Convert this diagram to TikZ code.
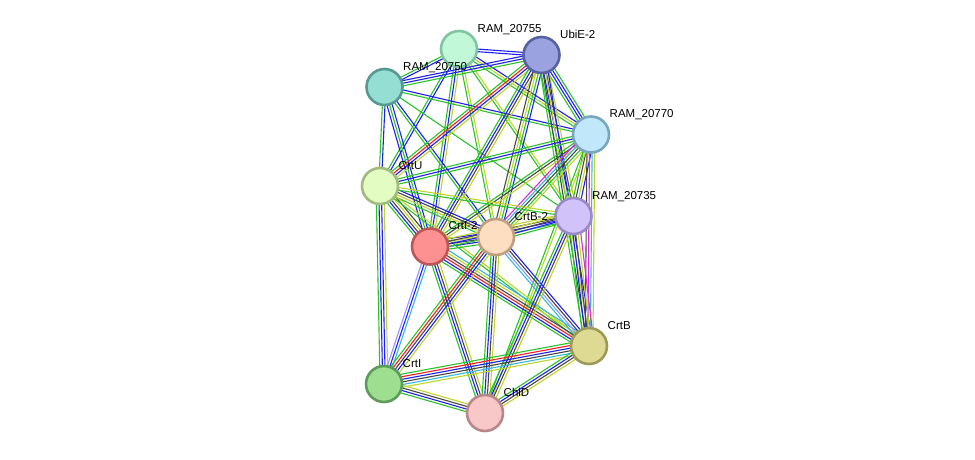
\documentclass[tikz,border=0pt]{standalone}
\usepackage{fontspec}
\setmainfont{Liberation Sans}
\usepackage{tikz}
\usetikzlibrary{calc,backgrounds}

% evidence channels
\definecolor{gn}{RGB}{40,196,40}
\definecolor{bl}{RGB}{30,30,250}
\definecolor{yg}{RGB}{190,212,40}
\definecolor{rd}{RGB}{250,30,30}
\definecolor{bk}{RGB}{70,70,70}
\definecolor{mg}{RGB}{225,40,225}
\definecolor{cy}{RGB}{50,184,225}
\definecolor{hm}{RGB}{150,150,250}

\begin{document}
\begin{tikzpicture}[
    x=1pt, y=-1pt,
    prot/.style={circle, minimum size=36pt, inner sep=0pt, line width=2.6pt},
    lbl/.style={anchor=base west, inner sep=0pt, font=\fontsize{11.5}{13}\selectfont},
    edge/.style={line width=1.1pt}
]
\useasboundingbox (0,0) rectangle (975,459);

% Proteinas
\node[prot, fill={rgb,255:red,192;green,248;blue,216}, draw={rgb,255:red,128;green,196;blue,160}] (r55) at (459,49) {};
\node[prot, fill={rgb,255:red,154;green,163;blue,224}, draw={rgb,255:red,88;green,98;blue,160}] (ubi) at (541.5,55) {};
\node[prot, fill={rgb,255:red,148;green,222;blue,212}, draw={rgb,255:red,88;green,154;blue,146}] (r50) at (384.5,87) {};
\node[prot, fill={rgb,255:red,192;green,232;blue,250}, draw={rgb,255:red,120;green,166;blue,192}] (r70) at (591,134.5) {};
\node[prot, fill={rgb,255:red,226;green,252;blue,194}, draw={rgb,255:red,160;green,186;blue,128}] (crtu) at (380,186) {};
\node[prot, fill={rgb,255:red,210;green,194;blue,250}, draw={rgb,255:red,152;green,138;blue,200}] (r35) at (573.5,216) {};
\node[prot, fill={rgb,255:red,253;green,222;blue,192}, draw={rgb,255:red,190;green,160;blue,128}] (crtb2) at (496,237) {};
\node[prot, fill={rgb,255:red,253;green,144;blue,144}, draw={rgb,255:red,190;green,86;blue,86}] (crti2) at (430,246.5) {};
\node[prot, fill={rgb,255:red,222;green,218;blue,148}, draw={rgb,255:red,156;green,154;blue,88}] (crtb) at (589,346) {};
\node[prot, fill={rgb,255:red,158;green,222;blue,144}, draw={rgb,255:red,92;green,156;blue,88}] (crti) at (384,384) {};
\node[prot, fill={rgb,255:red,248;green,200;blue,200}, draw={rgb,255:red,184;green,136;blue,136}] (chld) at (485,413) {};

% Etiquetas
\foreach \n/\txt in {r55/RAM\_20755, ubi/UbiE-2, r50/RAM\_20750, r70/RAM\_20770, crtu/CrtU,
    r35/RAM\_20735, crtb2/CrtB-2, crti2/CrtI-2, crtb/CrtB, crti/CrtI, chld/ChlD} {
    \node[lbl] (\n-lbl) at ([shift={(18.5,-17)}]\n.center) {\txt};
}

% Interacciones
\begin{scope}[on background layer]
\foreach \a/\b/\cols in {
    r55/ubi/{bl,bl}, r55/r50/{gn,bl}, r55/r70/{gn,yg,bl}, r55/crtu/{gn,bl},
    r55/crti2/{gn,bl,yg}, r55/crtb2/{gn,yg}, r55/r35/{gn,yg},
    r50/ubi/{gn,bl,bl}, r50/r70/{gn,bl}, r50/crtu/{gn,bl}, r50/crti2/{bl,gn,bl},
    r50/crtb2/{gn,bl}, r50/r35/{gn},
    ubi/r70/{gn,bl,bl,gn}, ubi/crtu/{gn,rd,bl,yg}, ubi/crti2/{gn,bl,bk,yg},
    ubi/crtb2/{bk,yg,gn,bl}, ubi/r35/{gn,bl,bk,yg}, ubi/crtb/{gn,bk,yg,bl},
    r70/crtu/{gn,bl,gn}, r70/crti2/{gn,bk,yg}, r70/crtb2/{mg,cy,bk,gn,yg},
    r70/r35/{gn,bk,yg,bl}, r70/crtb/{bk,mg,cy,yg}, r70/chld/{gn,yg},
    crtu/crti2/{gn,bl,bk,yg,bk}, crtu/crtb2/{gn,yg,bk,bl}, crtu/r35/{gn,yg},
    crtu/crtb/{gn,yg}, crtu/crti/{gn,bl,bl,yg},
    crti2/crtb2/{gn,bl,bk,yg,bl}, crti2/r35/{gn,bl,bk,yg},
    crti2/crtb/{gn,bl,rd,bk,yg,cy}, crti2/crti/{hm,bl,cy}, crti2/chld/{gn,bl,bk,yg},
    crtb2/r35/{gn,bl,bk,yg}, crtb2/crtb/{cy,hm,bk,bl}, crtb2/crti/{gn,rd,bk,bl,yg},
    crtb2/chld/{gn,bl,bk,yg},
    r35/crtb/{gn,bl,bk,yg,mg}, r35/chld/{gn,bl,bk,yg},
    crtb/crti/{gn,rd,bl,bk,cy,yg}, crtb/chld/{gn,bl,bk,yg}, crti/chld/{gn,bl,bk,yg}} {
    \foreach \c [count=\k] in \cols {\xdef\ncols{\k}}
    \foreach \c [count=\k] in \cols {
        \pgfmathsetmacro\off{(\k-(\ncols+1)/2)*2.6}
        \draw[edge, color=\c] ($(\a)!\off pt!90:(\b)$) -- ($(\b)!\off pt!-90:(\a)$);
    }
}
\end{scope}

\end{tikzpicture}
\end{document}
